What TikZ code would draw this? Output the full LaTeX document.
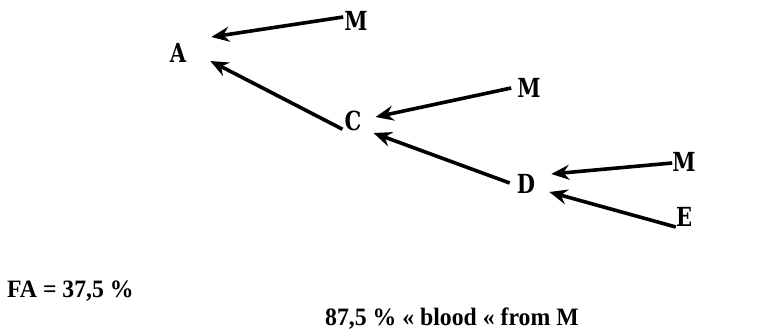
\documentclass[tikz,border=0pt]{standalone}
\usepackage{fontspec}
\usepackage{tikz}
\usetikzlibrary{arrows.meta}
\newfontfamily\letterfont{DejaVu Serif}
\newfontfamily\notefont{Liberation Serif}

\begin{document}
\begin{tikzpicture}[x=1pt, y=-1pt,
  letter/.style={inner sep=0pt, font=\letterfont\bfseries\fontsize{21}{21}\selectfont,
    yscale=1.25, transform shape},
  note/.style={inner sep=0pt, anchor=west, font=\notefont\bfseries\fontsize{25}{25}\selectfont,
    xscale=0.95, transform shape},
  arr/.style={-{Stealth[length=18pt, width=15pt, inset=6pt]}, line width=3.6pt}
]
  \useasboundingbox (0,0) rectangle (777,333);

  % Letters
  \node[letter] (A) at (178,53) {A};
  \node[letter] (M1) at (356,21) {M};
  \node[letter] (C) at (353,121) {C};
  \node[letter] (M2) at (529,88) {M};
  \node[letter] (D) at (526,184) {D};
  \node[letter] (M3) at (684,162) {M};
  \node[letter] (E) at (684,217) {E};

  % Arrows into A
  \draw[arr] ([shift={(-1,-4)}]M1.west) -- ([shift={(25,-16)}]A.east);
  \draw[arr] ([shift={(-2,-2)}]C.south west) -- ([shift={(24,8)}]A.east);
  % Arrows into C
  \draw[arr] ([shift={(-6,0)}]M2.west) -- ([shift={(14,-4)}]C.east);
  \draw[arr] ([shift={(-7,-1)}]D.west) -- ([shift={(12,12)}]C.east);
  % Arrows into D
  \draw[arr] ([shift={(0,1)}]M3.west) -- ([shift={(16,-10)}]D.east);
  \draw[arr] ([shift={(0,10)}]E.west) -- ([shift={(14,8)}]D.east);

  % Notes
  \node[note] (fa) at (7,291) {FA = 37,5 \%};
  \node[note] (blood) at (325,319) {87,5 \% « blood « from M};
\end{tikzpicture}
\end{document}
